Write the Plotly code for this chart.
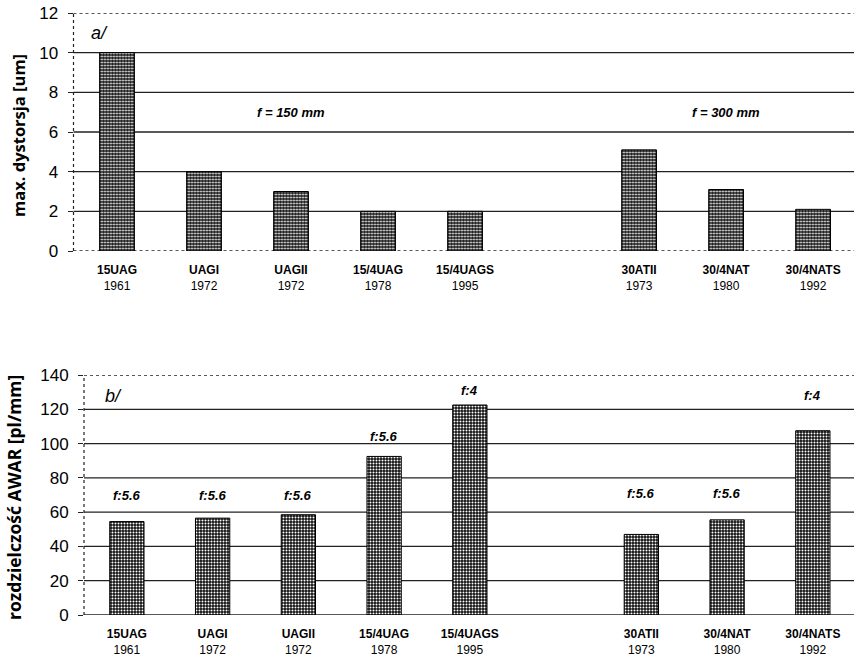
import plotly.graph_objects as go

# ---- data ----
models = ["15UAG", "UAGI", "UAGII", "15/4UAG", "15/4UAGS", "30ATII", "30/4NAT", "30/4NATS"]
years = ["1961", "1972", "1972", "1978", "1995", "1973", "1980", "1992"]
distortion = [10, 4, 3, 2, 2, 5.1, 3.1, 2.1]          # max. dystorsja [um]
resolution = [54.5, 56.5, 58.5, 92.5, 122.5, 47, 55.5, 107.5]  # AWAR [pl/mm]
apertures = ["f:5.6", "f:5.6", "f:5.6", "f:5.6", "f:4", "f:5.6", "f:5.6", "f:4"]
aperture_label_y = [70, 70, 70, 104, 131, 71, 71, 128]
focal_groups = ["f = 150 mm", "f = 300 mm"]
focal_anchor = ["UAGII", "30/4NAT"]
top_ticks = [0, 2, 4, 6, 8, 10, 12]
bot_ticks = [0, 20, 40, 60, 80, 100, 120, 140]

spacer = " "
cat_order = models[:5] + [spacer] + models[5:]
tick_text = []
for c in cat_order:
    if c == spacer:
        tick_text.append("")
    else:
        i = models.index(c)
        tick_text.append(f"<b>{c}</b><br>{years[i]}")

FONT = "Liberation Sans, Arial, sans-serif"
TFONT = "Open Sans, Liberation Sans, sans-serif"
W, H = 854, 666
DARK = "#222222"

bar_marker = dict(
    color="black",
    line=dict(color="black", width=1),
    pattern=dict(shape=".", fgcolor="white", bgcolor="#111", size=3, solidity=0.36),
)

fig = go.Figure()
fig.add_trace(go.Bar(x=models, y=distortion, marker=bar_marker, xaxis="x", yaxis="y",
                     showlegend=False, hoverinfo="x+y"))
fig.add_trace(go.Bar(x=models, y=resolution, marker=bar_marker, xaxis="x2", yaxis="y2",
                     showlegend=False, hoverinfo="x+y"))

def py(pix):
    return (H - pix) / H

xcommon = dict(type="category", categoryorder="array", categoryarray=cat_order,
               tickmode="array", tickvals=cat_order, ticktext=tick_text,
               showgrid=False, showline=False, zeroline=False, ticks="",
               ticklabelstandoff=10, automargin=False,
               tickfont=dict(family=FONT, size=12, color="black"), fixedrange=True)
ycommon = dict(showgrid=False, zeroline=False, showline=False, ticks="outside",
               ticklen=5, tickwidth=1, tickcolor=DARK, automargin=False,
               ticklabelstandoff=6,
               tickfont=dict(family=FONT, size=17, color="black"), fixedrange=True)

fig.update_layout(
    template="none",
    width=W, height=H,
    margin=dict(l=0, r=0, t=0, b=0, pad=0),
    paper_bgcolor="white", plot_bgcolor="white",
    bargap=0.6,
    xaxis=dict(xcommon, domain=[73.5 / W, 1], range=[-0.5, 8.47], anchor="y"),
    yaxis=dict(ycommon, domain=[py(251), py(13)], range=[0, 12], tickvals=top_ticks, anchor="x"),
    xaxis2=dict(xcommon, domain=[84 / W, 1], range=[-0.5, 8.48], anchor="y2"),
    yaxis2=dict(ycommon, domain=[py(615), py(375)], range=[0, 140], tickvals=bot_ticks, anchor="x2"),
)

shapes = []
# gridlines
for xr, yr, ticks in [("x", "y", top_ticks), ("x2", "y2", bot_ticks)]:
    for k, v in enumerate(ticks):
        top = k == len(ticks) - 1
        bottom_dotted = (k == 0 and yr == "y")
        dash = "dot" if (top or bottom_dotted) else "solid"
        shapes.append(dict(type="line", xref=f"{xr} domain", yref=yr, x0=0, x1=1, y0=v, y1=v,
                           line=dict(color=DARK, width=1.3, dash=dash),
                           layer="below"))
    shapes.append(dict(type="line", xref=f"{xr} domain", yref=f"{yr} domain", x0=0, x1=0, y0=0, y1=1,
                       line=dict(color=DARK, width=1.2, dash="dot"), layer="below"))
fig.update_layout(shapes=shapes)

ann = []
# panel letters
ann.append(dict(x=-0.2, y=11.0, xref="x", yref="y", text="<i>a/</i>", showarrow=False,
                font=dict(family=FONT, size=18, color="black")))
ann.append(dict(x=-0.16, y=128, xref="x2", yref="y2", text="<i>b/</i>", showarrow=False,
                font=dict(family=FONT, size=18, color="black")))
# focal group labels
for t, a in zip(focal_groups, focal_anchor):
    ann.append(dict(x=a, y=7, xref="x", yref="y", text=f"<b><i>{t}</i></b>", showarrow=False,
                    font=dict(family=FONT, size=13, color="black")))
# aperture labels
for m, t, yv in zip(models, apertures, aperture_label_y):
    ann.append(dict(x=m, y=yv, xref="x2", yref="y2", text=f"<b><i>{t}</i></b>", showarrow=False,
                    font=dict(family=FONT, size=13, color="black")))
# y axis titles
ann.append(dict(x=19 / W, y=py(136), xref="paper", yref="paper", text="<b>max. dystorsja [um]</b>",
                xanchor="center", yanchor="middle",
                textangle=-90, showarrow=False, font=dict(family=TFONT, size=16.5, color="black")))
ann.append(dict(x=14 / W, y=py(498), xref="paper", yref="paper", text="<b>rozdzielczość AWAR [pl/mm]</b>",
                xanchor="center", yanchor="middle",
                textangle=-90, showarrow=False, font=dict(family=TFONT, size=17.5, color="black")))
fig.update_layout(annotations=ann)

fig.write_html("out.html")
